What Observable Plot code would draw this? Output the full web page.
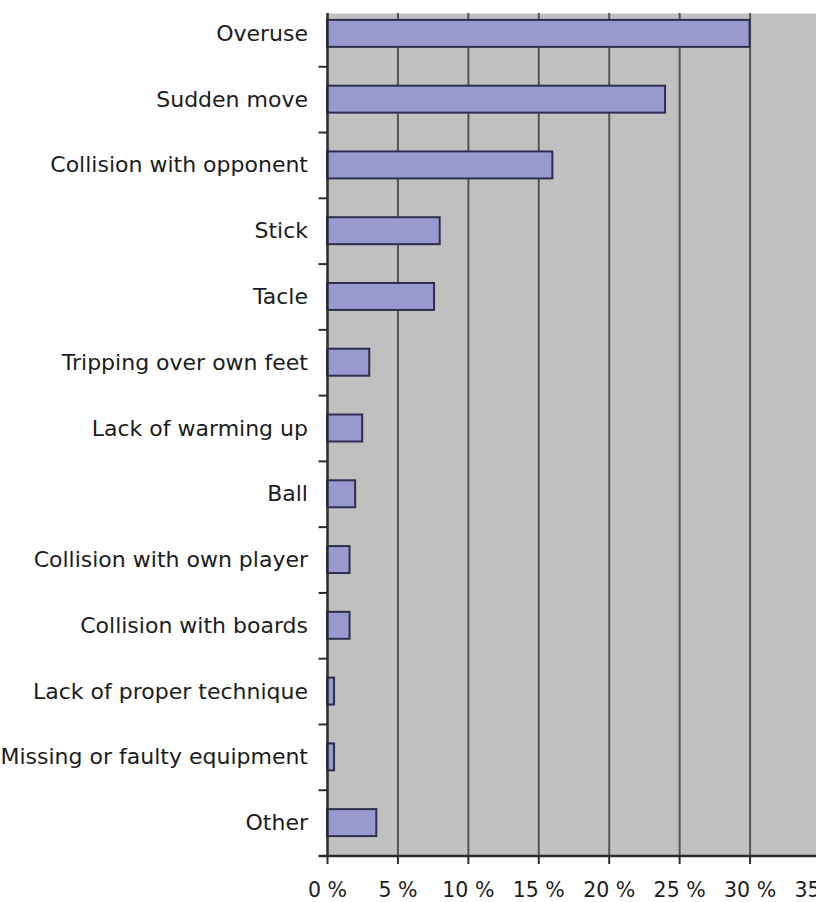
<!DOCTYPE html>
<html><head><meta charset="utf-8">
<script src="https://cdn.jsdelivr.net/npm/d3@7"></script>
<script src="https://cdn.jsdelivr.net/npm/@observablehq/plot@0.6"></script>
<style>
html,body{margin:0;padding:0;background:#fff;overflow:hidden;width:816px;height:902px;}
#chart svg{max-width:none !important;}
</style></head><body><div id="chart"></div>
<script>
const categories = ["Overuse","Sudden move","Collision with opponent","Stick","Tacle","Tripping over own feet","Lack of warming up","Ball","Collision with own player","Collision with boards","Lack of proper technique","Missing or faulty equipment","Other"];
const percentages = [30, 24, 16, 8, 7.6, 3, 2.5, 2, 1.6, 1.6, 0.5, 0.5, 3.5];
const xTicks = [0, 5, 10, 15, 20, 25, 30, 35];
const gridTicks = [5, 10, 15, 20, 25, 30, 35];

const data = categories.map((c, i) => ({cause: c, pct: percentages[i]}));
const W = 820, H = 902;
const yRange = [0.5, 855.5];
const step = (yRange[1] - yRange[0]) / categories.length;
const dark = "#2b2b2b";

const chart = Plot.plot({
  width: W, height: H,
  marginLeft: 327, marginRight: 0, marginTop: 13, marginBottom: 46,
  style: {fontFamily: "DejaVu Sans", fontSize: "21.5px", color: "#1c1c1c", background: "#fff", maxWidth: "none"},
  x: {domain: [0, 35], label: null},
  y: {domain: categories, range: yRange, paddingInner: 0.59, paddingOuter: 0.295, round: false, label: null},
  marks: [
    Plot.frame({fill: "#c0c0c0", stroke: null}),
    Plot.ruleX(gridTicks, {stroke: "#555", strokeWidth: 2}),
    Plot.barX(data, {x: "pct", y: "cause", fill: "#9999d0", stroke: "#2e2e50", strokeWidth: 2}),
    Plot.ruleY(categories.slice(1), {y: d => d, x1: -0.6, x2: 0, dy: -step / 2, stroke: dark, strokeWidth: 2}),
    Plot.ruleY(categories.slice(-1), {y: d => d, x1: -0.6, x2: 35, dy: step / 2, stroke: dark, strokeWidth: 2.5}),
    Plot.ruleX([0], {stroke: dark, strokeWidth: 2.5}),
    Plot.axisX({ticks: xTicks, tickFormat: d => `${d} %`, tickSize: 8, tickPadding: 18, stroke: dark, strokeWidth: 2, fontSize: 20.5, label: null}),
    Plot.axisY({tickSize: 0, tickPadding: 19.5, fontSize: 22, label: null})
  ]
});
document.getElementById("chart").appendChild(chart);
</script>
</body></html>
